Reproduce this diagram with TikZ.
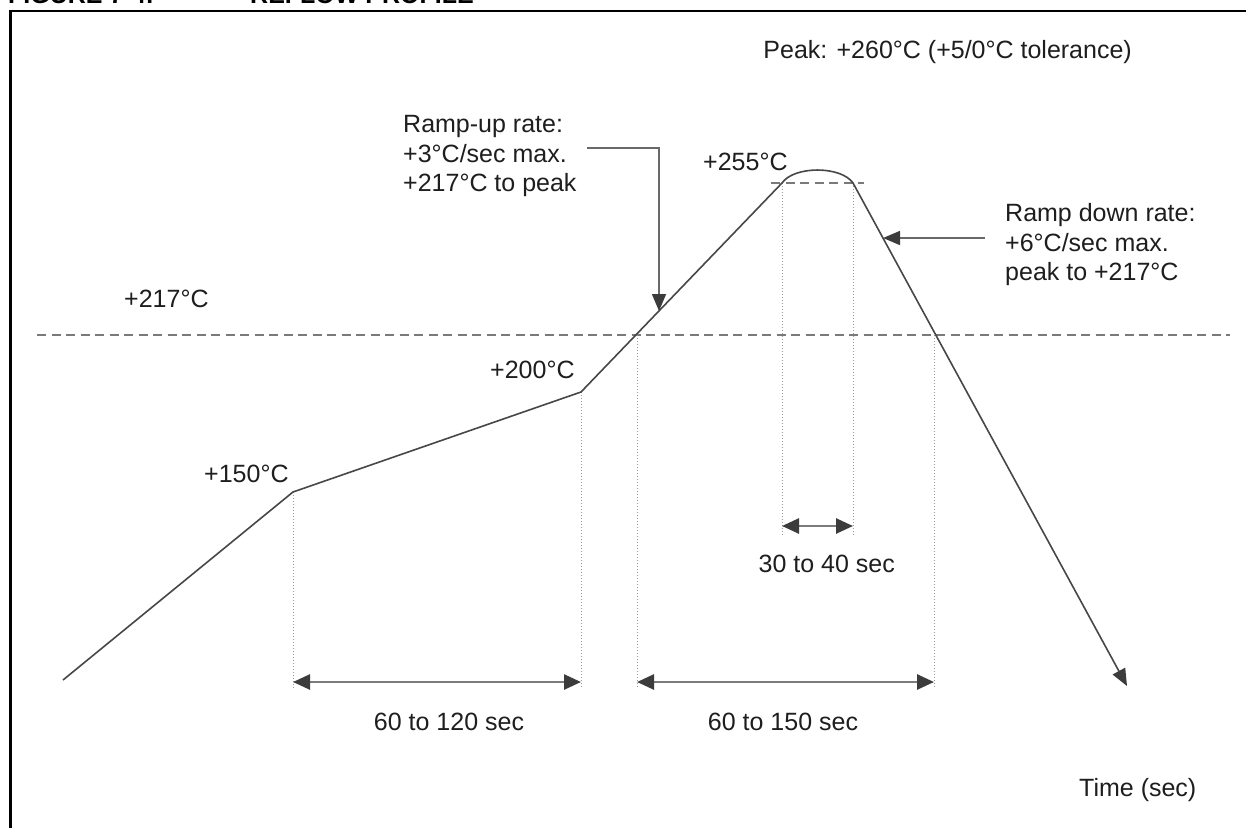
\documentclass[tikz,border=0pt]{standalone}
\usepackage{fontspec}
\setmainfont{Liberation Sans}
\usetikzlibrary{arrows.meta}
\definecolor{txt}{HTML}{1E1E1E}
\definecolor{curvec}{HTML}{474747}
\definecolor{dashc}{HTML}{7A7A7A}
\definecolor{dotc}{HTML}{9A9A9A}
\definecolor{shaftc}{HTML}{7C7C7C}
\definecolor{headc}{HTML}{3C3C3C}
\tikzset{
  lbl/.style={inner sep=0pt, text=txt, font=\fontsize{25}{29.7}\selectfont},
  ttl/.style={inner sep=0pt, text=black, font=\bfseries\fontsize{25}{30}\selectfont},
  profile/.style={draw=curvec, line width=1.6pt, line join=round},
  templine/.style={draw=dashc, line width=1.5pt, dash pattern=on 9pt off 5.5pt},
  guide/.style={draw=dotc, line width=1pt, dash pattern=on 1pt off 2pt},
  pointer/.style={draw=shaftc!85!black, line width=1.5pt, -{Triangle[length=17pt,width=14pt,color=headc]}},
  span/.style={draw=shaftc, line width=2.6pt, {Triangle[length=17pt,width=15pt,color=headc]}-{Triangle[length=17pt,width=15pt,color=headc]}},
  frameline/.style={draw=black, line width=2.6pt}
}
\begin{document}
\begin{tikzpicture}[x=1pt, y=-1pt]
\useasboundingbox (0,0) rectangle (1246,827);
\clip (0,0) rectangle (1246,827);
\fill[white] (0,0) rectangle (1246,827);

% clipped title above the frame
\node[ttl, anchor=base west] (figno) at (8,4) {FIGURE 7-4:};
\node[ttl, anchor=base west] (figname) at (250,4) {REFLOW PROFILE};

% frame
\draw[frameline] (10.3,835) -- (10.3,11) -- (1260,11);

% key points of the profile
\coordinate (start) at (63,680);
\coordinate (p150) at (293,492);
\coordinate (p200) at (581,392);
\coordinate (pl) at (782,183);
\coordinate (pr) at (853,183);
\coordinate (endtip) at (1127,686);

% temperature lines
\coordinate (l217a) at (37,335);
\coordinate (l217b) at (1230,335);
\draw[templine] (l217a) -- (l217b);
\coordinate (l255a) at (771,183);
\coordinate (l255b) at (864,183);
\draw[templine] (l255a) -- (l255b);

% dotted guides
\coordinate (g1b) at (293,688);
\coordinate (g2b) at (581,688);
\coordinate (g3t) at (637,335);
\coordinate (g3b) at (637,688);
\coordinate (g4t) at (934,335);
\coordinate (g4b) at (934,688);
\coordinate (g5b) at (782,535);
\coordinate (g6b) at (853,535);
\draw[guide] (p150) -- (g1b);
\draw[guide] (p200) -- (g2b);
\draw[guide] (g3t) -- (g3b);
\draw[guide] (g4t) -- (g4b);
\draw[guide] (pl) -- (g5b);
\draw[guide] (pr) -- (g6b);

% profile curve
\draw[profile, -{Triangle[length=17pt,width=14pt,color=headc]}]
  (start) -- (p150) -- (p200) -- (pl)
  .. controls (794,165.7) and (841,165.7) .. (pr) -- (endtip);

% span arrows
\coordinate (s1a) at (293,682);
\coordinate (s1b) at (581,682);
\coordinate (s2a) at (637,682);
\coordinate (s2b) at (934,682);
\coordinate (s3a) at (782,526);
\coordinate (s3b) at (853,526);
\draw[span] (s1a) -- (s1b);
\draw[span] (s2a) -- (s2b);
\draw[span] (s3a) -- (s3b);

% pointers
\coordinate (up0) at (587,148);
\coordinate (up1) at (659,148);
\coordinate (up2) at (659,311);
\draw[pointer] (up0) -- (up1) -- (up2);
\coordinate (dn0) at (985,238);
\coordinate (dn1) at (883,238);
\draw[pointer] (dn0) -- (dn1);

% labels
\node[lbl, anchor=base east] (peak) at (1132,58) {Peak: +260°C (+5/0°C tolerance)};
\node[lbl, anchor=north west, align=left] (rup) at (403,115) {Ramp-up rate:\\+3°C/sec max.\\+217°C to peak};
\node[lbl, anchor=north west, align=left] (rdn) at (1005,203) {Ramp down rate:\\+6°C/sec max.\\peak to +217°C};
\node[lbl, anchor=base west] (t217) at (124,307) {+217°C};
\node[lbl, anchor=base west] (t255) at (703,170) {+255°C};
\node[lbl, anchor=base west] (t200) at (490,378) {+200°C};
\node[lbl, anchor=base west] (t150) at (204,482) {+150°C};
\node[lbl, anchor=base] (d1) at (449,730) {60 to 120 sec};
\node[lbl, anchor=base] (d2) at (783,730) {60 to 150 sec};
\node[lbl, anchor=base east] (d3) at (895,572) {30 to 40 sec};
\node[lbl, anchor=base west] (time) at (1079,796) {Time (sec)};
\end{tikzpicture}
\end{document}
